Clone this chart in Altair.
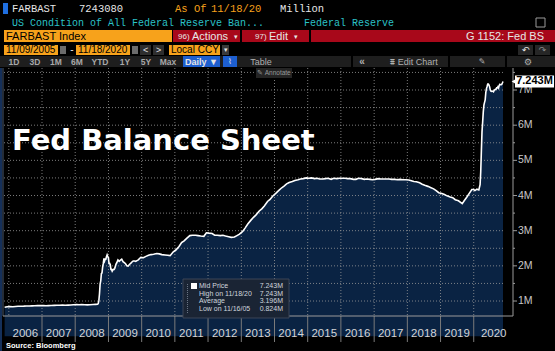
import altair as alt
import pandas as pd

# ---------------- data (in millions of $ millions = "M") -------------
dates = [
    "2005-11-16", "2005-12-14", "2006-01-11", "2006-02-15", "2006-03-15", "2006-04-12", "2006-05-17",
    "2006-06-14", "2006-07-12", "2006-08-16", "2006-09-13", "2006-10-11", "2006-11-15", "2006-12-13",
    "2007-01-17", "2007-02-14", "2007-03-14", "2007-04-11", "2007-05-16", "2007-06-13", "2007-07-11",
    "2007-08-15", "2007-09-12", "2007-10-17", "2007-11-14", "2007-12-12", "2008-01-16", "2008-02-13",
    "2008-03-12", "2008-04-16", "2008-05-14", "2008-06-11", "2008-07-16", "2008-08-13", "2008-09-03",
    "2008-09-10", "2008-09-17", "2008-09-24", "2008-10-01", "2008-10-08", "2008-10-15", "2008-10-22",
    "2008-10-29", "2008-11-05", "2008-11-12", "2008-11-19", "2008-11-26", "2008-12-03", "2008-12-10",
    "2008-12-17", "2008-12-24", "2008-12-31", "2009-01-07", "2009-01-14", "2009-01-21", "2009-01-28",
    "2009-02-04", "2009-02-11", "2009-02-18", "2009-02-25", "2009-03-04", "2009-03-11", "2009-03-18",
    "2009-03-25", "2009-04-01", "2009-04-15", "2009-04-29", "2009-05-13", "2009-05-27", "2009-06-10",
    "2009-06-24", "2009-07-08", "2009-07-22", "2009-08-05", "2009-08-19", "2009-09-02", "2009-09-16",
    "2009-09-30", "2009-10-14", "2009-10-28", "2009-11-11", "2009-11-25", "2009-12-09", "2009-12-23",
    "2010-01-20", "2010-02-17", "2010-03-17", "2010-04-14", "2010-05-12", "2010-06-16", "2010-07-14",
    "2010-08-11", "2010-09-15", "2010-10-13", "2010-11-10", "2010-12-15", "2011-01-12", "2011-02-16",
    "2011-03-16", "2011-04-13", "2011-05-11", "2011-06-15", "2011-07-13", "2011-08-17", "2011-09-14",
    "2011-10-12", "2011-11-16", "2011-12-14", "2012-01-11", "2012-02-15", "2012-03-14", "2012-04-11",
    "2012-05-16", "2012-06-13", "2012-07-11", "2012-08-15", "2012-09-12", "2012-10-17", "2012-11-14",
    "2012-12-12", "2013-01-16", "2013-02-13", "2013-03-13", "2013-04-17", "2013-05-15", "2013-06-12",
    "2013-07-17", "2013-08-14", "2013-09-11", "2013-10-16", "2013-11-13", "2013-12-11", "2014-01-15",
    "2014-02-12", "2014-03-12", "2014-04-16", "2014-05-14", "2014-06-11", "2014-07-16", "2014-08-13",
    "2014-09-17", "2014-10-15", "2014-11-12", "2014-12-17", "2015-01-14", "2015-02-11", "2015-03-18",
    "2015-04-15", "2015-05-13", "2015-06-17", "2015-07-15", "2015-08-12", "2015-09-16", "2015-10-14",
    "2015-11-18", "2015-12-16", "2016-01-13", "2016-02-17", "2016-03-16", "2016-04-13", "2016-05-18",
    "2016-06-15", "2016-07-13", "2016-08-17", "2016-09-14", "2016-10-12", "2016-11-16", "2016-12-14",
    "2017-01-11", "2017-02-15", "2017-03-15", "2017-04-12", "2017-05-17", "2017-06-14", "2017-07-12",
    "2017-08-16", "2017-09-13", "2017-10-11", "2017-11-15", "2017-12-13", "2018-01-17", "2018-02-14",
    "2018-03-14", "2018-04-11", "2018-05-16", "2018-06-13", "2018-07-11", "2018-08-15", "2018-09-12",
    "2018-10-17", "2018-11-14", "2018-12-12", "2019-01-16", "2019-02-13", "2019-03-13", "2019-04-17",
    "2019-05-15", "2019-06-12", "2019-07-17", "2019-08-28", "2019-09-18", "2019-10-16", "2019-11-13",
    "2019-12-11", "2020-01-01", "2020-01-15", "2020-02-05", "2020-02-26", "2020-03-11", "2020-03-18",
    "2020-03-25", "2020-04-01", "2020-04-08", "2020-04-15", "2020-04-22", "2020-04-29", "2020-05-06",
    "2020-05-13", "2020-05-20", "2020-05-27", "2020-06-03", "2020-06-10", "2020-06-17", "2020-06-24",
    "2020-07-01", "2020-07-08", "2020-07-15", "2020-07-22", "2020-07-29", "2020-08-05", "2020-08-12",
    "2020-08-19", "2020-08-26", "2020-09-02", "2020-09-09", "2020-09-16", "2020-09-23", "2020-09-30",
    "2020-10-07", "2020-10-14", "2020-10-21", "2020-10-28", "2020-11-04", "2020-11-11", "2020-11-18",
]
values = [
    0.824, 0.836, 0.840, 0.838, 0.845, 0.850, 0.852,
    0.855, 0.860, 0.858, 0.862, 0.864, 0.868, 0.872,
    0.868, 0.866, 0.870, 0.872, 0.876, 0.878, 0.880,
    0.885, 0.880, 0.884, 0.888, 0.895, 0.900, 0.895,
    0.900, 0.895, 0.890, 0.895, 0.900, 0.905, 0.908,
    0.925, 1.01, 1.20, 1.48, 1.57, 1.78, 1.80,
    1.97, 2.07, 2.21, 2.14, 2.19, 2.19, 2.26,
    2.31, 2.26, 2.24, 2.07, 2.07, 2.03, 1.90,
    1.90, 1.85, 1.88, 1.90, 1.90, 1.93, 1.99,
    2.05, 2.08, 2.17, 2.13, 2.16, 2.19, 2.12,
    2.09, 2.06, 2.00, 1.99, 2.04, 2.07, 2.11,
    2.14, 2.14, 2.13, 2.15, 2.17, 2.21, 2.24,
    2.23, 2.27, 2.30, 2.32, 2.33, 2.35, 2.34,
    2.32, 2.31, 2.30, 2.29, 2.40, 2.45, 2.55,
    2.66, 2.71, 2.78, 2.86, 2.87, 2.87, 2.86,
    2.85, 2.84, 2.94, 2.93, 2.92, 2.87, 2.87,
    2.86, 2.87, 2.85, 2.83, 2.81, 2.82, 2.86,
    2.90, 2.98, 3.08, 3.19, 3.30, 3.38, 3.45,
    3.56, 3.62, 3.70, 3.83, 3.89, 3.98, 4.06,
    4.13, 4.20, 4.27, 4.33, 4.37, 4.40, 4.43,
    4.45, 4.47, 4.48, 4.50, 4.49, 4.50, 4.48,
    4.49, 4.47, 4.47, 4.48, 4.49, 4.46, 4.49,
    4.48, 4.49, 4.49, 4.49, 4.48, 4.48, 4.46,
    4.46, 4.49, 4.48, 4.46, 4.47, 4.46, 4.45,
    4.46, 4.48, 4.47, 4.47, 4.47, 4.47, 4.46,
    4.46, 4.45, 4.46, 4.45, 4.45, 4.44, 4.42,
    4.40, 4.39, 4.36, 4.32, 4.29, 4.26, 4.23,
    4.19, 4.14, 4.08, 4.06, 4.03, 3.99, 3.96,
    3.94, 3.88, 3.85, 3.77, 3.85, 3.95, 4.06,
    4.17, 4.17, 4.14, 4.18, 4.16, 4.31, 4.67,
    5.25, 5.81, 6.08, 6.37, 6.57, 6.65, 6.72,
    6.93, 7.04, 7.10, 7.17, 7.17, 7.14, 7.09,
    7.00, 6.97, 6.96, 6.97, 6.96, 6.95, 6.99,
    7.00, 7.02, 7.02, 7.06, 7.06, 7.09, 7.06,
    7.13, 7.16, 7.15, 7.15, 7.16, 7.20, 7.243,
]

year_lines = [2006, 2007, 2008, 2009, 2010, 2011, 2012, 2013, 2014, 2015, 2016, 2017, 2018, 2019, 2020]
year_labels = ["2006", "2007", "2008", "2009", "2010", "2011", "2012", "2013", "2014", "2015",
               "2016", "2017", "2018", "2019", "2020"]
year_label_dates = ["2006-07-02", "2007-07-02", "2008-07-02", "2009-07-02", "2010-07-02",
                    "2011-07-02", "2012-07-02", "2013-07-02", "2014-07-02", "2015-07-02",
                    "2016-07-02", "2017-07-02", "2018-07-02", "2019-07-02", "2020-08-08"]
y_ticks = [1, 2, 3, 4, 5, 6, 7]
y_tick_labels = ["1M", "2M", "3M", "4M", "5M", "6M", "7M"]
y_grid = [1.0, 1.5, 2.0, 2.5, 3.0, 3.5, 4.0, 4.5, 5.0, 5.5, 6.0, 6.5, 7.0, 7.5]
y_minor = [1.5, 2.5, 3.5, 4.5, 5.5, 6.5, 7.5]
last_value = 7.243

# ---------------- layout -------------------------------------------------------------
OX, OY = 4, 68          # plot origin in page pixels
W, H = 499, 248
MONO = "Liberation Mono"
SANS = "Liberation Sans"

df = pd.DataFrame({"date": pd.to_datetime(dates), "v": values})
xscale = alt.Scale(domain=[alt.DateTime(year=2005, month=11, date=9),
                           alt.DateTime(year=2020, month=11, date=18)])
yscale = alt.Scale(domain=[0.574, 7.626], nice=False, zero=False)


def one():
    return pd.DataFrame({"t": [""]})


def T(s, x, y, color, size, font=MONO, weight="normal", align="left", baseline="middle"):
    return alt.Chart(pd.DataFrame({"t": [s]})).mark_text(
        align=align, baseline=baseline, color=color, fontSize=size, font=font, fontWeight=weight
    ).encode(x=alt.value(x - OX), y=alt.value(y - OY), text="t:N")


def R(x1, y1, x2, y2, fill, stroke=None, sw=1):
    kw = dict(color=fill)
    if stroke:
        kw.update(stroke=stroke, strokeWidth=sw)
    return alt.Chart(one()).mark_rect(**kw).encode(
        x=alt.value(x1 - OX), x2=alt.value(x2 - OX), y=alt.value(y1 - OY), y2=alt.value(y2 - OY))


def L(x1, y1, x2, y2, color, sw=1, dash=None):
    kw = dict(color=color, strokeWidth=sw)
    if dash:
        kw["strokeDash"] = dash
    return alt.Chart(one()).mark_rule(**kw).encode(
        x=alt.value(x1 - OX), x2=alt.value(x2 - OX), y=alt.value(y1 - OY), y2=alt.value(y2 - OY))


ORANGE = "#f7a21b"
RED = "#a8081a"
CYAN = "#2bc2c8"
WHITE = "#e6e6e6"

layers = []

# ---- header (terminal chrome) ----
layers += [
    R(3, 3, 8, 14, "#1f6fe0"),
    T("FARBAST", 12, 9, WHITE, 10.5),
    T("7243080", 79, 9, WHITE, 10.5),
    T("As Of", 175, 9, ORANGE, 10.5),
    T("11/18/20", 211, 9, ORANGE, 10.5),
    T("Million", 280, 9, WHITE, 10.5),
    T("US Condition of All Federal Reserve Ban...", 12, 23, CYAN, 10),
    T("Federal Reserve", 304, 23, CYAN, 10),
    R(536, 18, 545, 27, "#000000", "#9a9a9a", 1),
    R(4, 30, 172, 42, ORANGE),
    T("FARBAST Index", 6, 36.5, "#000000", 11, SANS),
    R(173, 30, 240, 42, RED),
    T("96)", 178, 36.5, WHITE, 8, SANS),
    T("Actions", 192, 36.5, WHITE, 11, SANS),
    T("▾", 234, 36.5, WHITE, 7, SANS),
    R(242, 30, 309, 42, RED),
    T("97)", 255, 36.5, WHITE, 8, SANS),
    T("Edit", 269, 36.5, WHITE, 11, SANS),
    T("▾", 294, 36.5, WHITE, 7, SANS),
    R(311, 30, 555, 42, RED),
    T("G 1152: Fed BS", 544, 36.5, WHITE, 11, SANS, align="right"),
    R(4, 45, 58, 55, ORANGE),
    T("11/09/2005", 6, 50, "#000000", 10, SANS),
    R(60, 46, 66, 54, "#6b6b6b"),
    T("-", 72, 50, WHITE, 10, SANS, align="center"),
    R(76, 45, 130, 55, ORANGE),
    T("11/18/2020", 78, 50, "#000000", 10, SANS),
    R(132, 46, 138, 54, "#6b6b6b"),
    R(140, 45, 151, 55, "#2e2e2e"),
    T("<", 145.5, 50, WHITE, 9, SANS, align="center"),
    R(153, 45, 164, 55, "#2e2e2e"),
    T(">", 158.5, 50, WHITE, 9, SANS, align="center"),
    R(169, 45, 220, 55, ORANGE),
    T("Local CCY", 171, 50, "#000000", 10, SANS),
    R(222, 45, 229, 55, "#3a3a3a"),
    T("▾", 225.5, 50, WHITE, 7, SANS, align="center"),
    R(518, 45, 533, 55, "#262626"),
    T("↶", 525.5, 50, WHITE, 9, "DejaVu Sans", align="center"),
    R(535, 45, 550, 55, "#262626"),
    T("↷", 542.5, 50, "#8a8a8a", 9, "DejaVu Sans", align="center"),
    # toolbar row
    R(0, 56, 555, 67, "#1e1e1e"),
    R(183, 56, 220, 67, "#1d5fd0"),
    R(223, 56, 237, 67, "#1d5fd0"),
    T("⌇", 230, 61.5, WHITE, 8, "DejaVu Sans", align="center"),
    L(352, 56, 352, 67, "#000000", 2),
    L(449, 56, 449, 67, "#000000", 2),
    L(506, 56, 506, 67, "#000000", 2),
    T("Daily ▼", 201.5, 61.5, WHITE, 9, SANS, "bold", align="center"),
    T("Table", 261, 61.5, "#b0b0b0", 9, SANS, align="center"),
    T("«", 362, 61.5, "#b0b0b0", 10, SANS, "bold", align="center"),
    T("⩩ Edit Chart", 414, 61.5, "#b0b0b0", 9, SANS, align="center"),
    T("✎", 482, 61.5, "#b0b0b0", 8, "DejaVu Sans", align="center"),
    T("⚙", 528, 61.5, "#b0b0b0", 9, "DejaVu Sans", align="center"),
]
for s, cx in zip(["1D", "3D", "1M", "6M", "YTD", "1Y", "5Y", "Max"],
                 [14, 35, 56, 77, 100, 125, 146, 168]):
    layers.append(T(s, cx, 61.5, "#a8a8a8", 8.5, SANS, "bold", align="center"))

# ---- chart body ----
def Y(field):
    return alt.Y(field, scale=yscale, axis=None)


area = alt.Chart(df).mark_area(color="#0a2343", opacity=1).encode(
    x=alt.X("date:T", scale=xscale, axis=None),
    y=Y("v:Q"),
    y2=alt.value(H),
)
vgrid = alt.Chart(pd.DataFrame({"d": pd.to_datetime([f"{y}-01-01" for y in year_lines])})).mark_rule(
    color="#9a9a9a", strokeWidth=1, strokeDash=[1, 2], opacity=0.8
).encode(x=alt.X("d:T", scale=xscale, axis=None), y=alt.value(0), y2=alt.value(H))
hgrid = alt.Chart(pd.DataFrame({"g": y_grid})).mark_rule(
    color="#9a9a9a", strokeWidth=1, strokeDash=[1, 2], opacity=0.8
).encode(y=Y("g:Q"), x=alt.value(0), x2=alt.value(W))
line = alt.Chart(df).mark_line(color="#ffffff", strokeWidth=1.6).encode(
    x=alt.X("date:T", scale=xscale, axis=None),
    y=Y("v:Q"),
)
# right-hand value axis drawn from the tick lists
ax_line = L(513, OY, 513, 316, "#9a9a9a", 1)
major = alt.Chart(pd.DataFrame({"m": y_ticks})).mark_rule(color="#9a9a9a").encode(
    y=Y("m:Q"), x=alt.value(W + 10), x2=alt.value(W + 14))
minor = alt.Chart(pd.DataFrame({"m": y_minor})).mark_rule(color="#9a9a9a").encode(
    y=Y("m:Q"), x=alt.value(W + 10), x2=alt.value(W + 12))
ytl = alt.Chart(pd.DataFrame({"m": y_ticks, "t": y_tick_labels})).mark_text(
    color="#c8c8c8", fontSize=10.5, font=SANS, align="left", baseline="middle"
).encode(y=Y("m:Q"), x=alt.value(W + 15), text="t:N")

seps = alt.Chart(pd.DataFrame({"d": pd.to_datetime([f"{y}-01-01" for y in year_lines[1:]])})).mark_rule(
    color="#7a7a7a", strokeWidth=1
).encode(x=alt.X("d:T", scale=xscale, axis=None), y=alt.value(H), y2=alt.value(H + 26))
ylab = alt.Chart(pd.DataFrame({"d": pd.to_datetime(year_label_dates), "t": year_labels})).mark_text(
    color="#d4d4d4", fontSize=11.5, font=SANS, baseline="middle", align="center"
).encode(x=alt.X("d:T", scale=xscale, axis=None), y=alt.value(334 - OY), text="t:N")

layers += [
    area, vgrid, hgrid, line, ax_line, major, minor, ytl, seps, ylab,
    L(3, OY, 3, 316, "#4a5a70", 1),
    L(1, OY, 1, 351, "#15305a", 2),
    L(3, 316, 513, 316, "#9a9a9a", 1),
    # Annotate button
    R(256, 68, 292, 78, "#242424"),
    T("✎ Annotate", 274, 73, "#9a9a9a", 6.5, SANS, align="center"),
    # title
    T("Fed Balance Sheet", 12, 150, "#ffffff", 29, "DejaVu Sans", "bold", baseline="alphabetic"),
    # stats box
    R(183, 279, 289, 318, "#1a2434", "#3a4556", 1),
    L(187.5, 284, 187.5, 313, "#6a7585", 1, [1, 1]),
    R(191, 283, 197, 289, "#ffffff"),
    T("Mid Price", 199, 286, "#d0d6de", 7, SANS),
    T("7.243M", 283, 286, "#d0d6de", 7, SANS, align="right"),
    T("High on 11/18/20", 199, 293.5, "#d0d6de", 7, SANS),
    T("7.243M", 283, 293.5, "#d0d6de", 7, SANS, align="right"),
    T("Average", 199, 301, "#d0d6de", 7, SANS),
    T("3.196M", 283, 301, "#d0d6de", 7, SANS, align="right"),
    T("Low on 11/16/05", 199, 308.5, "#d0d6de", 7, SANS),
    T("0.824M", 283, 308.5, "#d0d6de", 7, SANS, align="right"),
    # source
    T("Source:  Bloomberg", 6, 345.5, "#ffffff", 7.5, SANS, "bold"),
]

# last-value tag on the axis
tag_df = pd.DataFrame({"v": [last_value], "t": ["7.243M"]})
tag_rect = alt.Chart(tag_df).mark_rect(color="#ffffff", yOffset=-6, y2Offset=6).encode(
    y=Y("v:Q"), y2="v:Q",
    x=alt.value(515 - OX), x2=alt.value(554 - OX))
tag_tip = alt.Chart(tag_df).mark_point(shape="triangle-left", filled=True, color="#ffffff",
                                       size=30, opacity=1).encode(
    y=Y("v:Q"), x=alt.value(514 - OX))
tag_txt = alt.Chart(tag_df).mark_text(color="#000000", fontSize=11, font=SANS, fontWeight="bold",
                                      align="center", baseline="middle").encode(
    y=Y("v:Q"), x=alt.value(534.5 - OX), text="t:N")
layers += [tag_rect, tag_tip, tag_txt]

chart = alt.layer(*layers).properties(
    width=W, height=H,
    autosize=alt.AutoSizeParams(type="none"),
    padding={"left": OX, "top": OY, "right": 555 - OX - W, "bottom": 351 - OY - H},
    background="#000000",
).configure_view(stroke=None)

chart.save("out.html", embed_options={"renderer": "svg", "actions": False})
